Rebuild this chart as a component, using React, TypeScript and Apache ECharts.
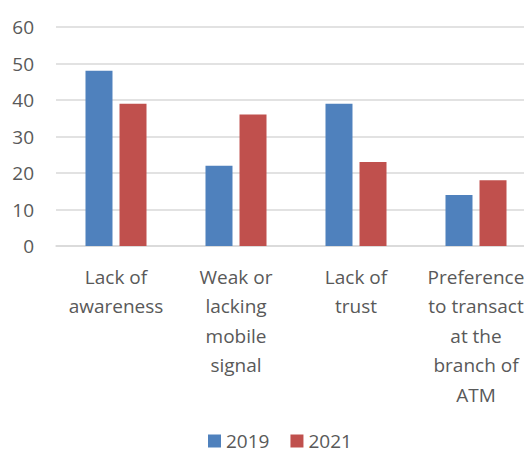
import React, { useEffect, useRef } from "react";
import * as echarts from "echarts";

const categories = [
  "Lack of\nawareness",
  "Weak or\nlacking\nmobile\nsignal",
  "Lack of\ntrust",
  "Preference\nto transact\nat the\nbranch of\nATM",
];
const series2019 = [48, 22, 39, 14];
const series2021 = [39, 36, 23, 18];
const seriesNames = ["2019", "2021"];
const yTicks = { min: 0, max: 60, interval: 10 };

const FONT = "'Open Sans', sans-serif";
const TEXT = "#595959";

export default function App() {
  const ref = useRef<HTMLDivElement>(null);
  useEffect(() => {
    if (!ref.current) return;
    const chart = echarts.init(ref.current, null, { renderer: "svg" });
    chart.setOption({
      animation: false,
      textStyle: { fontFamily: FONT },
      grid: { left: 56, right: 4, top: 27, bottom: 209, containLabel: false },
      legend: {
        data: seriesNames,
        top: 430,
        left: 208,
        padding: 0,
        itemWidth: 13,
        itemHeight: 13,
        itemGap: 21,
        icon: "rect",
        textStyle: { fontFamily: FONT, fontSize: 19, lineHeight: 22, color: TEXT },
      },
      xAxis: {
        type: "category",
        data: categories,
        axisLine: { show: true, lineStyle: { color: "#D9D9D9", width: 1.5 } },
        axisTick: { show: false },
        axisLabel: {
          interval: 0,
          margin: 16,
          fontFamily: FONT,
          fontSize: 19,
          lineHeight: 29.5,
          color: TEXT,
          align: "center",
        },
      },
      yAxis: {
        type: "value",
        min: yTicks.min,
        max: yTicks.max,
        interval: yTicks.interval,
        axisLine: { show: false },
        axisTick: { show: false },
        axisLabel: { margin: 22, fontFamily: FONT, fontSize: 19, color: TEXT },
        splitLine: { lineStyle: { color: "#D9D9D9", width: 1.5 } },
      },
      series: [
        {
          name: seriesNames[0],
          type: "bar",
          data: series2019,
          barWidth: 27,
          barGap: "26%",
          itemStyle: { color: "#4F81BD" },
        },
        {
          name: seriesNames[1],
          type: "bar",
          data: series2021,
          barWidth: 27,
          barGap: "26%",
          itemStyle: { color: "#C0504D" },
        },
      ],
    });
    return () => chart.dispose();
  }, []);
  return (
    <div
      style={{
        position: "fixed",
        left: 0,
        top: 0,
        width: 524,
        height: 455,
        overflow: "hidden",
        background: "#fff",
      }}
    >
      <div ref={ref} style={{ width: 540, height: 455 }} />
    </div>
  );
}
